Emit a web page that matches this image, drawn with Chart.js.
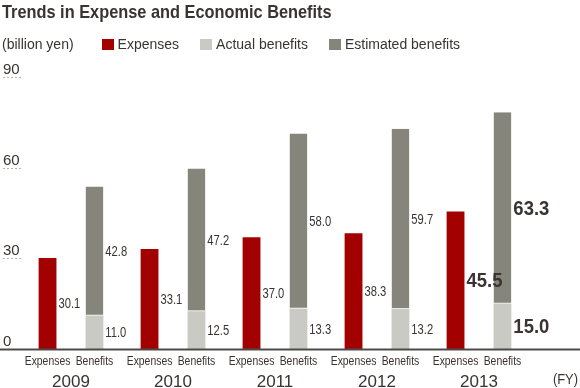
<!DOCTYPE html>
<html>
<head>
<meta charset="UTF-8">
<title>Trends in Expense and Economic Benefits</title>
<script src="https://cdn.jsdelivr.net/npm/chart.js"></script>
<style>
  body { margin: 0; background: #fff; }
  #wrap { position: relative; width: 580px; height: 388px; color: #3a3332; font-family: 'Liberation Sans', sans-serif; }
  #wrap h2 { position: absolute; left: 2px; top: 0; margin: 0; font-size: 19px; line-height: 24px; font-weight: bold;
             white-space: nowrap; transform: scaleX(0.86); transform-origin: left top; }
  #legend { position: absolute; left: 2px; top: 34px; font-size: 14px; line-height: 20px; display: flex; align-items: center; white-space: nowrap; }
  #legend .unit { margin-right: 28px; }
  #legend .box { display: inline-block; width: 12px; height: 11px; margin-right: 4px; }
  #legend .item { display: flex; align-items: center; margin-right: 21px; }
  canvas { position: absolute; left: 0; top: 0; }
</style>
</head>
<body>

<div id="wrap">
  <canvas id="benefitChart" width="580" height="388"></canvas>
  <h2>Trends in Expense and Economic Benefits</h2>
  <div id="legend"><span class="unit">(billion yen)</span></div>
</div>

<script>
  // data
  const years = ['2009', '2010', '2011', '2012', '2013'];
  const expenses = [30.1, 33.1, 37.0, 38.3, 45.5];
  const actualBenefits = [11.0, 12.5, 13.3, 13.2, 15.0];
  const estimatedBenefits = [42.8, 47.2, 58.0, 59.7, 63.3];
  const yTicks = [0, 30, 60, 90];
  const barNames = ['Expenses', 'Benefits'];

  const textColor = '#3a3332';
  const fontName = "'Liberation Sans', sans-serif";

  // the original uses a condensed face, so squeeze the text a bit
  function narrowText(ctx, text, x, y, sx) {
    ctx.save();
    ctx.translate(x, y);
    ctx.scale(sx, 1);
    ctx.fillText(text, 0, 0);
    ctx.restore();
  }

  const drawExtras = {
    id: 'drawExtras',
    afterDatasetsDraw(chart) {
      const ctx = chart.ctx;
      const x = chart.scales.x;
      const y = chart.scales.y;
      ctx.save();
      ctx.fillStyle = textColor;

      // short dashed marks + numbers on the left
      ctx.font = '15px ' + fontName;
      ctx.textAlign = 'left';
      ctx.textBaseline = 'alphabetic';
      yTicks.forEach(v => {
        const py = Math.round(y.getPixelForValue(v));
        if (v > 0) {
          ctx.strokeStyle = '#b4b4b4';
          ctx.lineWidth = 1;
          ctx.setLineDash([2, 2]);
          ctx.beginPath();
          ctx.moveTo(3, py + 0.5);
          ctx.lineTo(22, py + 0.5);
          ctx.stroke();
          ctx.setLineDash([]);
        }
        ctx.fillText(String(v), 3, py - 3);
      });

      // base line across the whole width
      const y0 = Math.round(y.getPixelForValue(0));
      ctx.strokeStyle = '#4e4a48';
      ctx.lineWidth = 2;
      ctx.beginPath();
      ctx.moveTo(0, y0 + 0.5);
      ctx.lineTo(580, y0 + 0.5);
      ctx.stroke();

      // values to the right of each segment, 2013 is bigger
      ctx.textAlign = 'left';
      ctx.textBaseline = 'middle';
      chart.data.datasets.forEach((ds, di) => {
        chart.getDatasetMeta(di).data.forEach((bar, i) => {
          const last = i === ds.data.length - 1;
          ctx.font = last ? 'bold 21px ' + fontName : '14px ' + fontName;
          narrowText(ctx, ds.data[i].toFixed(1), bar.x + bar.width / 2 + 2, (bar.y + bar.base) / 2 + 1, last ? 0.88 : 0.8);
        });
      });

      // Expenses / Benefits under the bars
      ctx.font = '13px ' + fontName;
      ctx.textAlign = 'center';
      [0, 1].forEach((di, k) => {
        chart.getDatasetMeta(di).data.forEach(bar => {
          narrowText(ctx, barNames[k], bar.x, y0 + 12, 0.8);
        });
      });

      // years
      ctx.font = '17px ' + fontName;
      ctx.textBaseline = 'alphabetic';
      years.forEach((yr, i) => {
        ctx.fillText(yr, x.getPixelForValue(i), y0 + 38);
      });

      ctx.font = '15px ' + fontName;
      ctx.textAlign = 'right';
      narrowText(ctx, '(FY)', 578, y0 + 35, 0.86);
      ctx.restore();
    }
  };

  const datasets = [
    { label: 'Expenses', data: expenses, backgroundColor: '#a30000', stack: 'exp' },
    { label: 'Actual benefits', data: actualBenefits, backgroundColor: '#c9cac4', stack: 'ben' },
    { label: 'Estimated benefits', data: estimatedBenefits, backgroundColor: '#85857c', stack: 'ben',
      borderWidth: { bottom: 1, top: 0, left: 0, right: 0 }, borderColor: '#e6e6e1', borderSkipped: false }
  ];

  // legend in html, from the datasets
  const legendEl = document.getElementById('legend');
  datasets.forEach(ds => {
    const item = document.createElement('span');
    item.className = 'item';
    item.innerHTML = '<span class="box" style="background:' + ds.backgroundColor + '"></span>' + ds.label;
    legendEl.appendChild(item);
  });

  const ctx = document.getElementById('benefitChart').getContext('2d');
  new Chart(ctx, {
    type: 'bar',
    data: { labels: years, datasets: datasets },
    options: {
      responsive: false,
      animation: false,
      categoryPercentage: 0.92,
      barPercentage: 0.38,
      layout: { padding: { left: 20, right: 50, top: 77, bottom: 39 } },
      plugins: { legend: { display: false }, tooltip: { enabled: false } },
      scales: {
        x: { display: false },
        y: { display: false, stacked: true, min: 0, max: 90 }
      }
    },
    plugins: [drawExtras]
  });
</script>

</body>
</html>
